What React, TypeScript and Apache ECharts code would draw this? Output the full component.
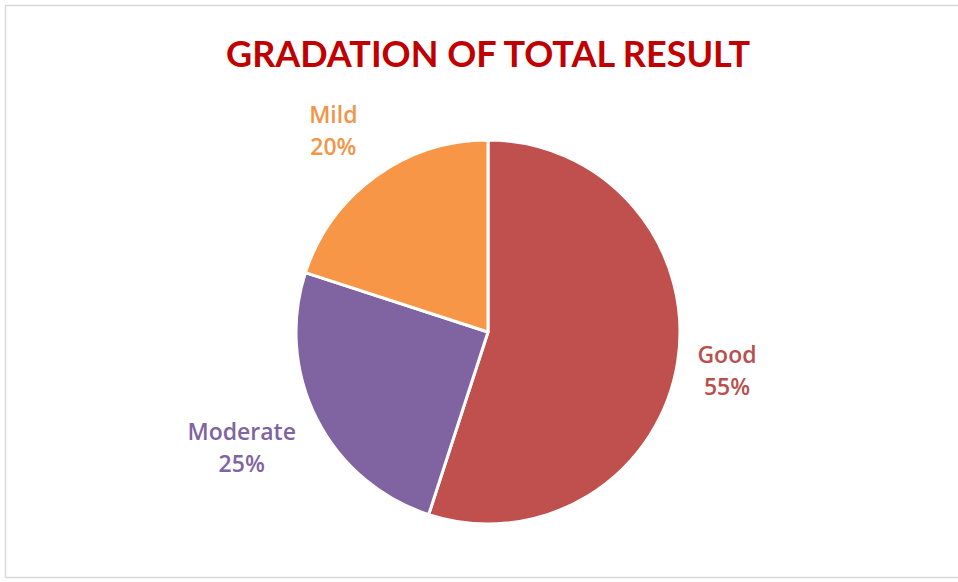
import React, { useEffect, useRef } from "react";
import * as echarts from "echarts";

const titleText = "GRADATION OF TOTAL RESULT";
const categories = ["Good", "Moderate", "Mild"];
const values = [55, 25, 20];
const sliceColors = ["#C0504D", "#8064A2", "#F79646"];
const labelColors = ["#B8504E", "#7F64A2", "#F0964A"];
const labelNudges = [
  [2, 0],
  [-5, -8],
  [-8, 0],
];

const W = 958;
const H = 582;
const CX = 488;
const CY = 332;
const R = 192;
const GAP = 18;

export default function App() {
  const ref = useRef<HTMLDivElement>(null);
  useEffect(() => {
    if (!ref.current) return;
    const chart = echarts.init(ref.current, null, { renderer: "svg", width: W, height: H });
    const total = values.reduce((a, b) => a + b, 0);
    const mids: number[] = [];
    let acc = 0;
    values.forEach((v) => {
      const mid = 90 - ((acc + v / 2) / total) * 360;
      mids.push((mid * Math.PI) / 180);
      acc += v;
    });
    chart.setOption({
      animation: false,
      backgroundColor: "#ffffff",
      title: {
        text: titleText,
        left: 221,
        top: 30,
        textStyle: {
          fontFamily: "Lato",
          fontWeight: "bold",
          fontSize: 36,
          color: "#C00000",
        },
      },
      graphic: [
        {
          type: "rect",
          shape: { x: 5.5, y: 5.5, width: 970, height: 572 },
          style: { fill: "none", stroke: "#D9D9D9", lineWidth: 1.5 },
          silent: true,
          z: -1,
        },
      ],
      series: [
        {
          type: "pie",
          center: [CX, CY],
          radius: [0, R],
          startAngle: 90,
          clockwise: true,
          data: categories.map((c, i) => ({
            name: c,
            value: values[i],
            itemStyle: { color: sliceColors[i] },
            label: { color: labelColors[i] },
          })),
          itemStyle: { borderColor: "#ffffff", borderWidth: 3 },
          label: {
            show: true,
            position: "outside",
            formatter: "{b}\n{d}%",
            fontFamily: "Open Sans",
            fontSize: 23,
            lineHeight: 32,
            fontWeight: 600,
            align: "center",
          },
          labelLine: { show: false },
          labelLayout: (params: any) => {
            const i = params.dataIndex;
            const a = mids[i];
            const w = params.labelRect.width / 2;
            const h = params.labelRect.height / 2;
            const c = Math.abs(Math.cos(a));
            const s = Math.abs(Math.sin(a));
            const t = Math.min(c > 1e-6 ? w / c : 1e9, s > 1e-6 ? h / s : 1e9);
            const d = R + GAP + t;
            return {
              x: CX + d * Math.cos(a) + labelNudges[i][0],
              y: CY - d * Math.sin(a) + labelNudges[i][1],
              align: "center",
              verticalAlign: "middle",
            };
          },
        },
      ],
    });
    return () => chart.dispose();
  }, []);
  return (
    <div
      ref={ref}
      style={{ position: "fixed", left: 0, top: 0, width: W, height: H }}
    />
  );
}
